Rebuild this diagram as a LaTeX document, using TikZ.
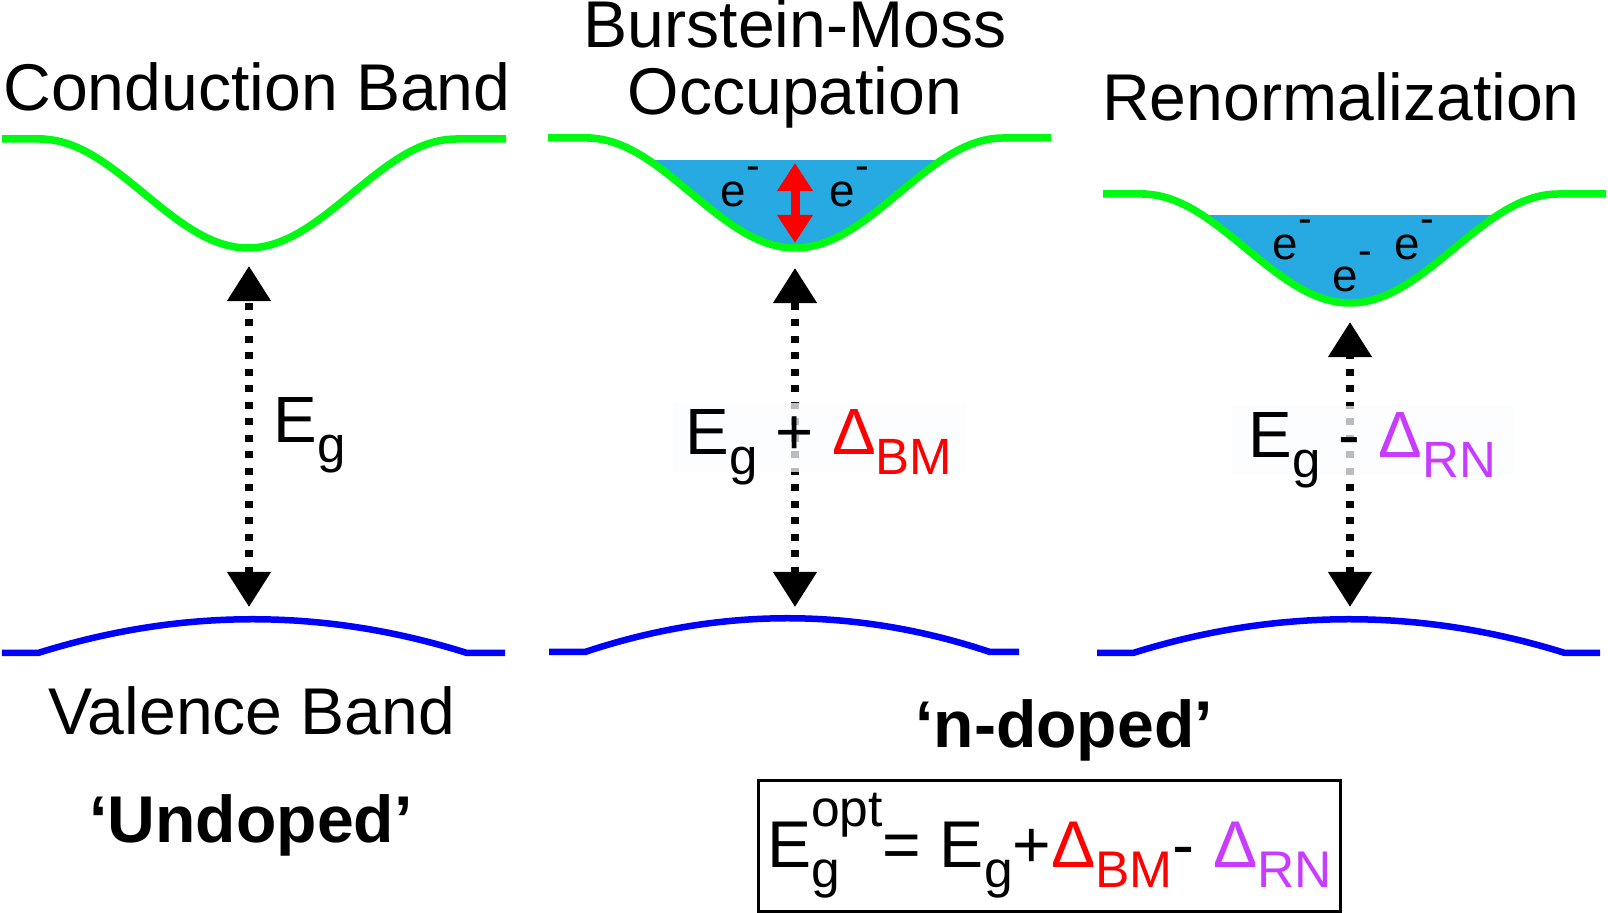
\documentclass[tikz,border=0pt]{standalone}
\usepackage{fontspec}
\setmainfont{Liberation Sans}
\usetikzlibrary{arrows.meta}

\definecolor{cbgreen}{RGB}{0,250,20}
\definecolor{vbblue}{RGB}{0,0,255}
\definecolor{efill}{RGB}{39,170,225}
\definecolor{bmred}{RGB}{255,0,0}
\definecolor{rnpurple}{RGB}{200,60,255}
\definecolor{labelbg}{RGB}{250,252,255}

\newcommand{\lowsub}[1]{\raisebox{-0.3em}{\scalebox{0.78}{#1}}}
\newcommand{\electron}{e\raisebox{0.6em}{\scalebox{0.9}{-}}}

\begin{document}
\begin{tikzpicture}[
    x=0.01cm,
    y=-0.01cm,
    title/.style={
        font=\fontsize{18.8pt}{19.1pt}\selectfont,
        inner sep=0,
        align=center
    },
    boldtitle/.style={
        title,
        font=\fontsize{18.8pt}{19.1pt}\selectfont\bfseries
    },
    gaplabel/.style={
        font=\fontsize{18.6pt}{19pt}\selectfont,
        inner ysep=0.05cm,
        text height=0.47cm,
        text depth=0.12cm
    },
    elabel/.style={
        font=\fontsize{13pt}{15pt}\selectfont,
        inner sep=0,
        anchor=base west
    },
    cband/.style={
        draw=cbgreen,
        line width=0.075cm
    },
    vband/.style={
        draw=vbblue,
        line width=0.065cm
    },
    gaparrow/.style={
        draw,
        line width=0.075cm,
        dash pattern=on 0.07cm off 0.095cm,
        {Triangle[width=0.42cm,length=0.35cm]}-{Triangle[width=0.42cm,length=0.35cm]}
    },
    bmarrow/.style={
        draw=bmred,
        line width=0.09cm,
        {Triangle[width=0.34cm,length=0.28cm]}-{Triangle[width=0.34cm,length=0.28cm]}
    },
    eqbox/.style={
        draw,
        line width=0.03cm,
        minimum width=5.81cm,
        minimum height=1.30cm,
        inner sep=0,
        font=\fontsize{18.8pt}{19.1pt}\selectfont
    }
]
    \useasboundingbox (0,0) rectangle (1608,913);

    % Electron pockets
    \begin{scope}
        \clip (560,161) rectangle (1040,300);
        \fill[efill] (587,138) -- plot[domain=-208:208,samples=80] ({795+\x},{138+55*(1+cos(0.86538*\x))}) -- cycle;
    \end{scope}
    \begin{scope}
        \clip (1120,216) rectangle (1590,360);
        \fill[efill] (1142,194) -- plot[domain=-208:208,samples=80] ({1350+\x},{194+54.5*(1+cos(0.86538*\x))}) -- cycle;
    \end{scope}

    % Conduction bands
    \draw[cband] (2,139) -- (40,139) -- plot[domain=-208:208,samples=80] ({248+\x},{139+54.5*(1+cos(0.86538*\x))}) -- (506,139);
    \draw[cband] (548,138) -- (587,138) -- plot[domain=-208:208,samples=80] ({795+\x},{138+55*(1+cos(0.86538*\x))}) -- (1051,138);
    \draw[cband] (1103,194) -- (1142,194) -- plot[domain=-208:208,samples=80] ({1350+\x},{194+54.5*(1+cos(0.86538*\x))}) -- (1606,194);

    % Valence bands
    \draw[vband] (2,653) -- (38,653) .. controls (181,608) and (324,608) .. (467,653) -- (505,653);
    \draw[vband] (549,652) -- (585,652) .. controls (720,607) and (855,607) .. (990,652) -- (1019,652);
    \draw[vband] (1097,653) -- (1133,653) .. controls (1277,608) and (1421,608) .. (1565,653) -- (1600,653);

    % Arrow ends
    \coordinate (cb1) at (249,266);
    \coordinate (vb1) at (249,607);
    \coordinate (cb2) at (795,268);
    \coordinate (vb2) at (795,607);
    \coordinate (cb3) at (1350,322);
    \coordinate (vb3) at (1350,607);
    \coordinate (fermi2) at (795,163);
    \coordinate (bottom2) at (795,243);

    % Gap arrows
    \path[gaparrow] (vb1) -- (cb1);
    \path[gaparrow] (vb2) -- (cb2);
    \path[gaparrow] (vb3) -- (cb3);
    \path[bmarrow] (fermi2) -- (bottom2);

    % Electrons
    \node[elabel] (e21) at (720,207) {\electron};
    \node[elabel] (e22) at (829,207) {\electron};
    \node[elabel] (e31) at (1272,260) {\electron};
    \node[elabel] (e32) at (1332,292) {\electron};
    \node[elabel] (e33) at (1394,260) {\electron};

    % Gap labels
    \node[gaplabel, inner xsep=0, anchor=base west] (eg1) at (273,443) {E\lowsub{g}};
    \node[gaplabel, inner xsep=0.13cm, anchor=base west, fill=labelbg, fill opacity=0.75, text opacity=1] (eg2) at (672,455)
        {E\lowsub{g} + {\color{bmred}Δ\lowsub{BM}}};
    \node[gaplabel, inner xsep=0.18cm, anchor=base west, fill=labelbg, fill opacity=0.75, text opacity=1] (eg3) at (1230,458)
        {E\lowsub{g} - {\color{rnpurple}Δ\lowsub{RN}}};

    % Titles
    \node[title, anchor=base] (cbt) at (257,111) {Conduction Band};
    \node[title, anchor=base] (bmt) at (795,115) {Burstein-Moss\\Occupation};
    \node[title, anchor=base] (rnt) at (1341,121) {Renormalization};
    \node[title, anchor=base] (vbt) at (252,735) {Valence Band};
    \node[boldtitle, anchor=base] (undoped) at (251,843) {`Undoped'};
    \node[boldtitle, anchor=base] (ndoped) at (1064,748) {`n-doped'};

    % Optical gap
    \node[eqbox] (eq) at (1049.5,846)
        {E\rlap{\lowsub{g}}\raisebox{0.62em}{\scalebox{0.78}{opt}}= E\lowsub{g}+{\color{bmred}Δ\lowsub{BM}}- {\color{rnpurple}Δ\lowsub{RN}}};
\end{tikzpicture}
\end{document}
